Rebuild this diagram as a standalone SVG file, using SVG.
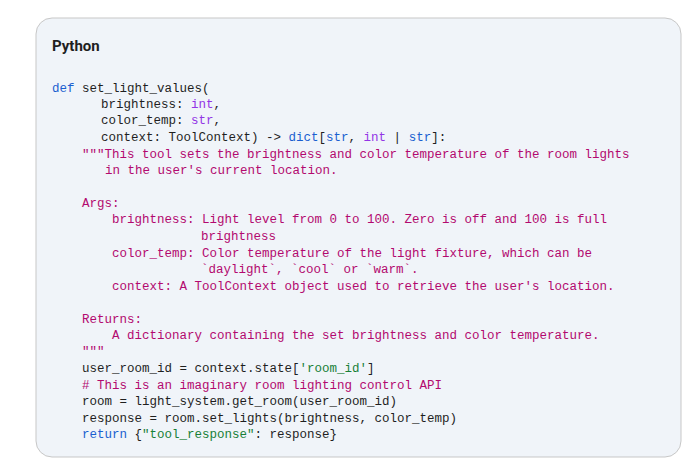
<svg xmlns="http://www.w3.org/2000/svg" width="700" height="460" viewBox="0 0 700 460">
<style>
.c{font-family:"Liberation Mono","DejaVu Sans Mono",monospace;font-size:12.5px;fill:#1f1f1f;white-space:pre}
.k{fill:#1a5fd0}.t{fill:#9334e6}.s{fill:#b3096f}.g{fill:#188038}
</style>
<rect width="700" height="460" fill="#fff"/>
<g id="codebox">
<rect x="36" y="18" width="645" height="439" rx="16" fill="#f0f4f9" stroke="#c7c7c7" stroke-width="1"/>
<text x="52" y="51" font-family="Roboto,'Liberation Sans',sans-serif" font-size="15" font-weight="bold" fill="#1f1f1f">Python</text>
</g>
<g id="code" class="c">
<text x="52" y="92"><tspan class="k">def</tspan> set_light_values(</text>
<text x="101" y="108">brightness: <tspan class="t">int</tspan>,</text>
<text x="101" y="124">color_temp: <tspan class="t">str</tspan>,</text>
<text x="101" y="141">context: ToolContext) -&gt; <tspan class="k">dict</tspan>[<tspan class="k">str</tspan>, <tspan class="t">int</tspan> | <tspan class="k">str</tspan>]:</text>
<text x="82" y="158" class="s">"""This tool sets the brightness and color temperature of the room lights</text>
<text x="105" y="174" class="s"> in the user's current location.</text>
<text x="82" y="207" class="s">Args:</text>
<text x="112" y="223" class="s">brightness: Light level from 0 to 100. Zero is off and 100 is full</text>
<text x="201" y="240" class="s">brightness</text>
<text x="112" y="257" class="s">color_temp: Color temperature of the light fixture, which can be</text>
<text x="201" y="273" class="s">`daylight`, `cool` or `warm`.</text>
<text x="112" y="290" class="s">context: A ToolContext object used to retrieve the user's location.</text>
<text x="82" y="323" class="s">Returns:</text>
<text x="112" y="339" class="s">A dictionary containing the set brightness and color temperature.</text>
<text x="82" y="355" class="s">"""</text>
<text x="82" y="372">user_room_id = context.state[<tspan class="g">'room_id'</tspan>]</text>
<text x="82" y="389" class="s"># This is an imaginary room lighting control API</text>
<text x="82" y="405">room = light_system.get_room(user_room_id)</text>
<text x="82" y="422">response = room.set_lights(brightness, color_temp)</text>
<text x="82" y="438"><tspan class="k">return</tspan> {<tspan class="g">"tool_response"</tspan>: response}</text>
</g>
</svg>
